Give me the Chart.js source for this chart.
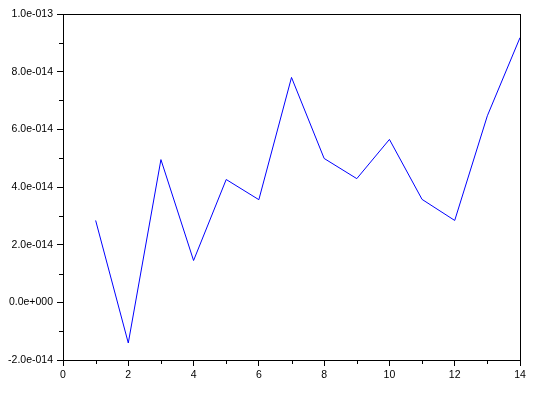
<!DOCTYPE html>
<html>
<head>
<meta charset="utf-8">
<script src="https://cdn.jsdelivr.net/npm/chart.js@4/dist/chart.umd.min.js"></script>
<style>
  html, body { margin: 0; padding: 0; background: #fff; }
  canvas { display: block; }
</style>
</head>
<body>
<canvas id="plot" width="538" height="393"></canvas>
<script>
const xValues = [1, 2, 3, 4, 5, 6, 7, 8, 9, 10, 11, 12, 13, 14];
const yValues = [2.84e-14, -1.41e-14, 4.95e-14, 1.45e-14, 4.26e-14, 3.56e-14, 7.80e-14,
  4.99e-14, 4.29e-14, 5.65e-14, 3.57e-14, 2.84e-14, 6.47e-14, 9.18e-14];
const xTicks = [0, 2, 4, 6, 8, 10, 12, 14];
const yTicks = [-2e-14, 0, 2e-14, 4e-14, 6e-14, 8e-14, 1e-13];

Chart.defaults.font.family = '"Liberation Sans", Arial, sans-serif';
Chart.defaults.font.size = 10.5;
Chart.defaults.color = '#000';

// format like 1.0e-013
function sciLabel(v) {
  if (Math.abs(v) < 1e-20) v = 0;
  const s = v.toExponential(1);
  const [m, e] = s.split('e');
  const sign = e[0] === '-' ? '-' : '+';
  const digits = e.replace(/[+-]/, '').padStart(3, '0');
  return m + 'e' + sign + digits;
}

// frame + minor ticks
const framePlugin = {
  id: 'frame',
  afterDraw(chart) {
    const ctx = chart.ctx;
    const a = chart.chartArea;
    const xs = chart.scales.x;
    const ys = chart.scales.y;
    ctx.save();
    ctx.strokeStyle = '#000';
    ctx.lineWidth = 1;
    ctx.strokeRect(Math.round(a.left) + 0.5, Math.round(a.top) + 0.5,
      Math.round(a.right - a.left), Math.round(a.bottom - a.top));
    ctx.beginPath();
    for (let i = 0; i < xTicks.length - 1; i++) {
      const px = Math.round(xs.getPixelForValue((xTicks[i] + xTicks[i + 1]) / 2)) + 0.5;
      ctx.moveTo(px, a.bottom);
      ctx.lineTo(px, a.bottom + 4);
    }
    for (let i = 0; i < yTicks.length - 1; i++) {
      const py = Math.round(ys.getPixelForValue((yTicks[i] + yTicks[i + 1]) / 2)) + 0.5;
      ctx.moveTo(a.left - 4, py);
      ctx.lineTo(a.left, py);
    }
    ctx.stroke();
    ctx.restore();
  }
};

new Chart(document.getElementById('plot'), {
  type: 'line',
  data: {
    datasets: [{
      data: xValues.map((x, i) => ({ x: x, y: yValues[i] })),
      borderColor: '#0000ff',
      borderWidth: 1,
      pointRadius: 0,
      tension: 0,
      fill: false
    }]
  },
  options: {
    responsive: false,
    animation: false,
    layout: { padding: { left: 0, top: 14, right: 18, bottom: 0 } },
    plugins: { legend: { display: false }, tooltip: { enabled: false } },
    scales: {
      x: {
        type: 'linear',
        min: 0,
        max: 14,
        afterFit: (s) => { s.height = 33; },
        afterBuildTicks: (s) => { s.ticks = xTicks.map(v => ({ value: v })); },
        ticks: { padding: 3, maxRotation: 0, autoSkip: false, callback: (v) => String(v) },
        grid: { drawOnChartArea: false, tickLength: 6, tickColor: '#000' },
        border: { display: true, color: '#000' }
      },
      y: {
        type: 'linear',
        min: -2e-14,
        max: 1e-13,
        afterFit: (s) => { s.width = 63; },
        afterBuildTicks: (s) => { s.ticks = yTicks.map(v => ({ value: v })); },
        ticks: { padding: 4, autoSkip: false, callback: (v) => sciLabel(v) },
        grid: { drawOnChartArea: false, tickLength: 6, tickColor: '#000' },
        border: { display: true, color: '#000' }
      }
    }
  },
  plugins: [framePlugin]
});
</script>
</body>
</html>
